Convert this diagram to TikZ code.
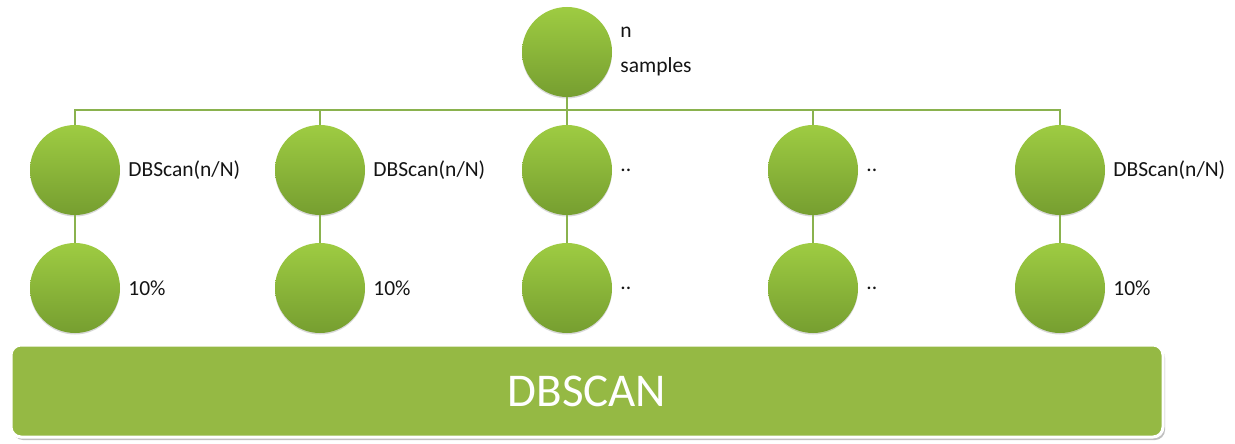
\documentclass[tikz,border=0pt]{standalone}
\usepackage{fontspec}
\setmainfont{Carlito}
\usetikzlibrary{calc,shadows}
\definecolor{ballTop}{RGB}{158,204,66}
\definecolor{ballBot}{RGB}{118,158,48}
\definecolor{linkcol}{RGB}{138,178,78}
\definecolor{barfill}{RGB}{149,185,68}
\definecolor{txt}{RGB}{20,20,20}
\tikzset{
  ball/.style={circle, minimum size=90pt, inner sep=0pt, top color=ballTop, bottom color=ballBot, draw=none,
    drop shadow={shadow xshift=0pt, shadow yshift=-1.5pt, opacity=0.25, fill=black!60}},
  link/.style={draw=linkcol, line width=1.4pt},
  lbl/.style={font=\fontsize{21.5}{25}\selectfont, text=txt, anchor=west, inner sep=0pt},
  bigbar/.style={rounded corners=10pt, fill=barfill, draw=white, line width=3pt,
    minimum width=1152pt, minimum height=92pt, inner sep=0pt,
    text=white, font=\fontsize{47}{50}\selectfont,
    drop shadow={shadow xshift=2pt, shadow yshift=-3pt, opacity=0.45, fill=black!55}}
}
\begin{document}
\begin{tikzpicture}[x=1pt,y=-1pt]
  \useasboundingbox[fill=white] (0,0) rectangle (1235,444);

  % root of the tree
  \node[ball] (top) at (567,52) {};
  \node[lbl, align=left, font=\fontsize{21.5}{35}\selectfont] (toplbl) at ($(top.east)+(8,0)$) {n\\samples};

  % first row: partitions
  \node[ball] (a1) at (75,170) {};
  \node[ball] (a2) at (320,170) {};
  \node[ball] (a3) at (567,170) {};
  \node[ball] (a4) at (813,170) {};
  \node[ball] (a5) at (1060,170) {};

  % second row: sampled results
  \node[ball] (b1) at (75,288) {};
  \node[ball] (b2) at (320,288) {};
  \node[ball] (b3) at (567,288) {};
  \node[ball] (b4) at (813,288) {};
  \node[ball] (b5) at (1060,288) {};

  % labels
  \node[lbl] (la1) at ($(a1.east)+(8,0)$) {DBScan(n/N)};
  \node[lbl] (la2) at ($(a2.east)+(8,0)$) {DBScan(n/N)};
  \node[lbl] (la3) at ($(a3.east)+(8,0)$) {..};
  \node[lbl] (la4) at ($(a4.east)+(8,0)$) {..};
  \node[lbl] (la5) at ($(a5.east)+(8,0)$) {DBScan(n/N)};
  \node[lbl] (lb1) at ($(b1.east)+(8,0)$) {10\%};
  \node[lbl] (lb2) at ($(b2.east)+(8,0)$) {10\%};
  \node[lbl] (lb3) at ($(b3.east)+(8,0)$) {..};
  \node[lbl] (lb4) at ($(b4.east)+(8,0)$) {..};
  \node[lbl] (lb5) at ($(b5.east)+(8,0)$) {10\%};

  % connectors
  \coordinate (bus) at (567,110);
  \foreach \i in {1,...,5} {
    \draw[link] (top.south) -- (bus) -| (a\i.north);
    \draw[link] (a\i.south) -- (b\i.north);
  }

  % base bar
  \node[bigbar] (base) at (587,391) {DBSCAN};
\end{tikzpicture}
\end{document}
